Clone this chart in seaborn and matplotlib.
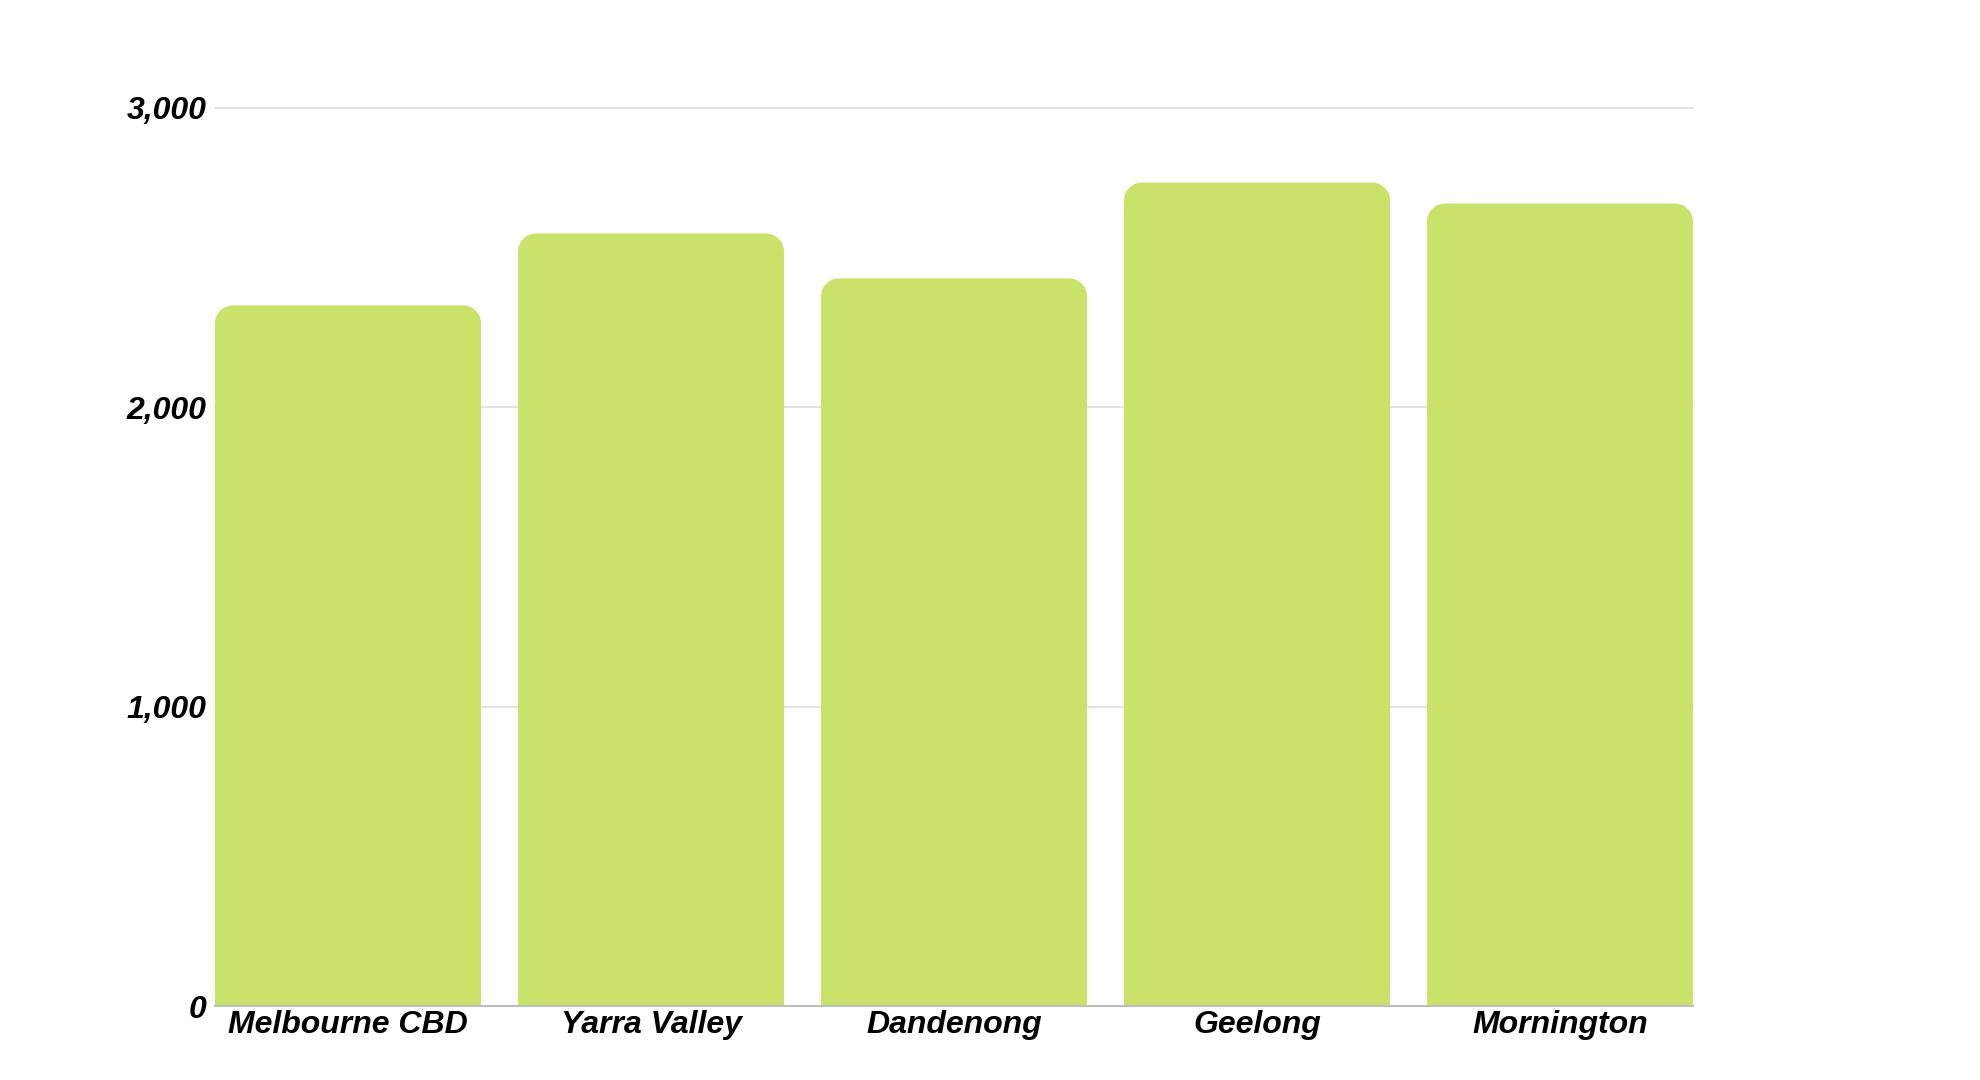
import matplotlib
matplotlib.use("Agg")
import matplotlib.pyplot as plt
import seaborn as sns
import pandas as pd
from matplotlib.path import Path
from matplotlib.patches import PathPatch

categories = ["Melbourne CBD", "Yarra Valley", "Dandenong", "Geelong", "Mornington"]
values = [2340, 2580, 2430, 2750, 2680]
yticks = [0, 1000, 2000, 3000]
ytick_labels = ["0", "1,000", "2,000", "3,000"]

bar_color = "#cbe26a"

sns.set_theme(style="white")
plt.rcParams["font.family"] = ["Liberation Sans", "DejaVu Sans"]

fig = plt.figure(figsize=(19.8, 10.8), dpi=100)
ax_left, ax_bottom = 215 / 1980, 1 - 1006 / 1080
ax_w, ax_h = (1693 - 215) / 1980, (1006 - 107.7) / 1080
ax = fig.add_axes([ax_left, ax_bottom, ax_w, ax_h])

df = pd.DataFrame({"cat": categories, "val": values})
bw = 0.878
sns.barplot(data=df, x="cat", y="val", color=bar_color, width=bw, ax=ax, zorder=2)

xlim = (-bw / 2, len(categories) - 1 + bw / 2)
ylim = (0, 3000)
ax.set_xlim(*xlim)
ax.set_ylim(*ylim)

# corner radius in pixels -> data units
radius_px = 18
px_per_x = ax_w * 1980 / (xlim[1] - xlim[0])
px_per_y = ax_h * 1080 / (ylim[1] - ylim[0])
rx = radius_px / px_per_x
ry = radius_px / px_per_y
k = 0.5523

bars = list(ax.patches)
for p in bars:
    x0, w, h = p.get_x(), p.get_width(), p.get_height()
    x1 = x0 + w
    p.remove()
    verts = [
        (x0, -300), (x0, h - ry),
        (x0, h - ry + k * ry), (x0 + rx - k * rx, h), (x0 + rx, h),
        (x1 - rx, h),
        (x1 - rx + k * rx, h), (x1, h - ry + k * ry), (x1, h - ry),
        (x1, -300), (x0, -300),
    ]
    codes = [Path.MOVETO, Path.LINETO,
             Path.CURVE4, Path.CURVE4, Path.CURVE4,
             Path.LINETO,
             Path.CURVE4, Path.CURVE4, Path.CURVE4,
             Path.LINETO, Path.CLOSEPOLY]
    ax.add_patch(PathPatch(Path(verts, codes), facecolor=bar_color,
                           edgecolor="none", zorder=2))

ax.set_yticks(yticks)
ax.set_yticklabels(ytick_labels)
for y in yticks[1:]:
    ax.axhline(y, color="#e2e2e2", linewidth=1.5, zorder=0, clip_on=False)

ax.set_xlabel("")
ax.set_ylabel("")
for s in ["top", "right", "left"]:
    ax.spines[s].set_visible(False)
ax.spines["bottom"].set_color("#bdbdbd")
ax.spines["bottom"].set_linewidth(1.5)
ax.spines["bottom"].set_zorder(3)

ax.tick_params(axis="both", length=0)
ax.tick_params(axis="y", pad=6)
ax.tick_params(axis="x", pad=3)
for lab in ax.get_xticklabels() + ax.get_yticklabels():
    lab.set_fontsize(23)
    lab.set_fontweight("bold")
    lab.set_fontstyle("italic")
    lab.set_color("black")

fig.savefig("out.png", dpi=100, facecolor="white")
